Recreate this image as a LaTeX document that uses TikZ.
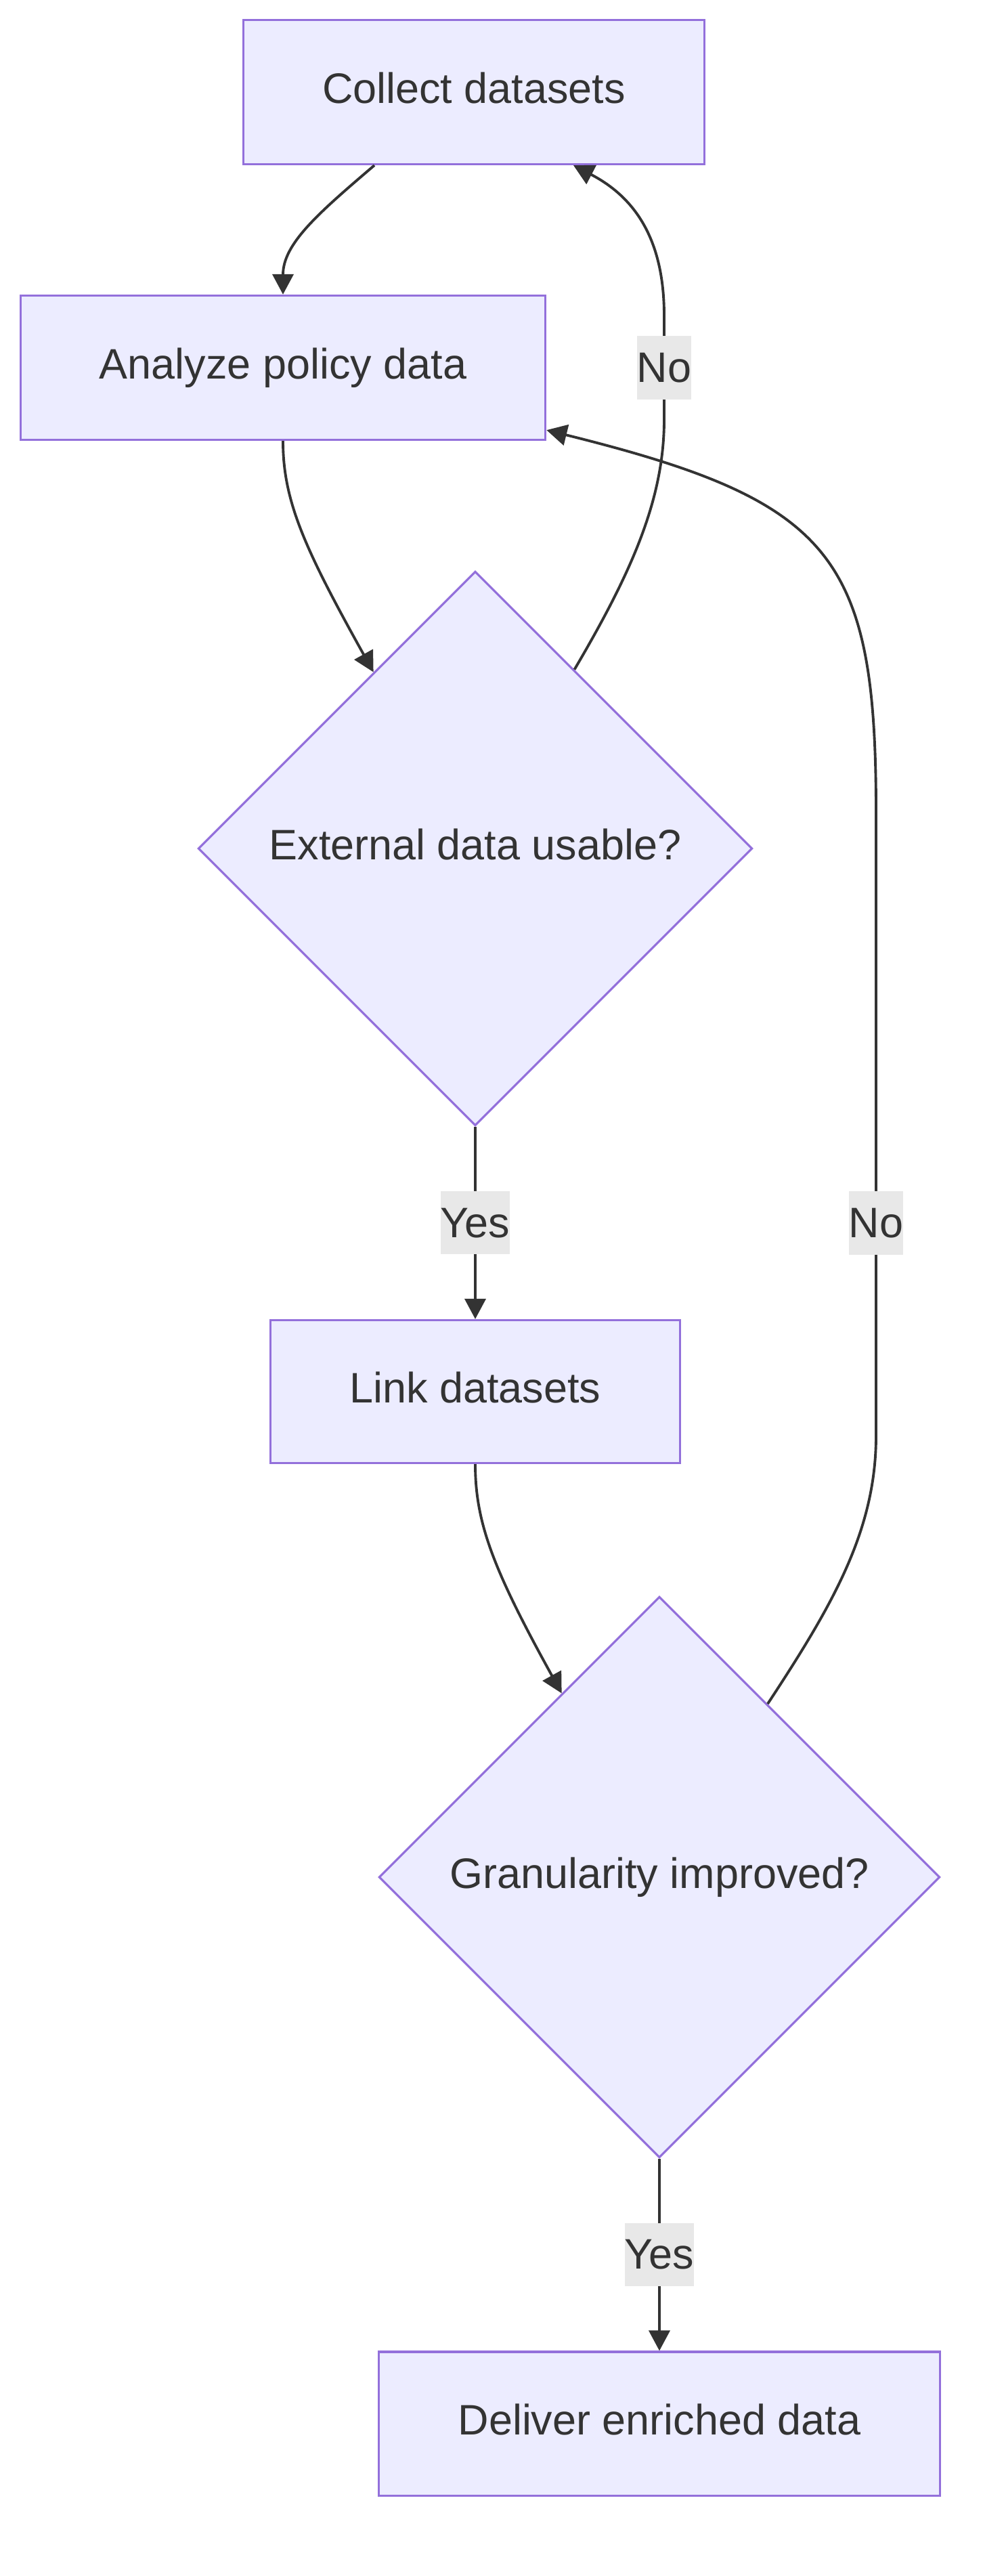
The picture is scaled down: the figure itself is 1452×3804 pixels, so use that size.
\documentclass[tikz,border=0pt]{standalone}
\usepackage{fontspec}
\setmainfont{Liberation Sans}
\usetikzlibrary{arrows.meta,calc,positioning,shapes.geometric}
\definecolor{NodeFill}{HTML}{ECECFF}
\definecolor{NodeEdge}{HTML}{9370DB}
\definecolor{InkGray}{HTML}{333333}
\definecolor{LabelGray}{HTML}{E8E8E8}

\begin{document}
\begin{tikzpicture}[x=0.01cm,y=-0.01cm,
      proc/.style={rectangle,draw=NodeEdge,line width=0.9pt,fill=NodeFill,
      text=InkGray,minimum height=2.13cm,inner sep=0pt,text height=13pt,text depth=3.8pt,
      font=\fontsize{17.9}{21}\selectfont},
      decide/.style={diamond,aspect=1,draw=NodeEdge,line width=0.9pt,
      fill=NodeFill,text=InkGray,inner sep=0pt,text height=13pt,text depth=3.8pt,
      font=\fontsize{17.9}{21}\selectfont},
      arr/.style={-{Triangle[length=0.3cm,width=0.31cm]},InkGray,line width=1.1pt},
      lbl/.style={fill=LabelGray,text=InkGray,inner sep=0pt,minimum height=0.93cm,
      font=\fontsize{17.9}{21}\selectfont}]
  \useasboundingbox (0,0) rectangle (1452,3804);
  % process steps and decisions
  \node[proc,minimum width=6.81cm] (col) at (700,136) {Collect datasets};
  \node[proc,minimum width=7.75cm] (an) at (418,543) {Analyze policy data};
  \node[decide,minimum size=8.18cm] (ext) at (702,1253) {External data usable?};
  \node[proc,minimum width=6.04cm,minimum height=2.11cm] (link) at (702,2055) {Link datasets};
  \node[decide,minimum size=8.28cm] (gran) at (974,2772) {Granularity improved?};
  \node[proc,minimum width=8.28cm,minimum height=2.12cm] (del) at (974,3579) {Deliver enriched data};
  % connectors
  \draw[arr] ($(col.south)+(-147,0)$) .. controls (470,315) and (418,360) .. (an.north);
  \draw[arr] (an.south) .. controls (418,740) and (450,810) .. (ext.120);
  \draw[arr] (ext.61) .. controls (930,850) and (981,740) .. (981,620)
    -- node[lbl] {No} (981,466) .. controls (981,350) and (935,290) .. ($(col.south)+(147,0)$);
  \draw[arr] (ext.south) -- node[lbl] {Yes} (link.north);
  \draw[arr] (link.south) .. controls (702,2250) and (730,2320) .. (gran.118);
  \draw[arr] (gran.58) .. controls (1230,2370) and (1294,2260) .. (1294,2120)
    -- (1294,1806) node[lbl] {No} -- (1294,1200)
    .. controls (1294,820) and (1230,740) .. ($(an.south east)+(0,-16)$);
  \draw[arr] (gran.south) -- node[lbl] {Yes} (del.north);
\end{tikzpicture}
\end{document}
